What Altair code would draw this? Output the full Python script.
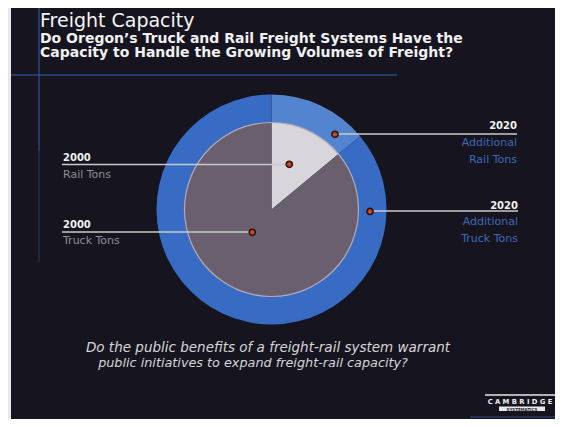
import altair as alt
import pandas as pd

# ---------------- data ----------------
inner_labels = ["2000 Rail Tons", "2000 Truck Tons"]
inner_values = [14, 86]
inner_colors = ["#d8d6db", "#695f6e"]

outer_labels = ["2020 Additional Rail Tons", "2020 Additional Truck Tons"]
outer_values = [14, 86]
outer_colors = ["#5384d0", "#386cc4"]

title_text = "Freight Capacity"
subtitle_lines = ["Do Oregon’s Truck and Rail Freight Systems Have the",
                  "Capacity to Handle the Growing Volumes of Freight?"]
question_lines = ["Do the public benefits of a freight-rail system warrant",
                  "public initiatives to expand freight-rail capacity?"]

left_years = ["2000", "2000"]
left_names = ["Rail Tons", "Truck Tons"]
right_years = ["2020", "2020"]
right_names = [["Additional", "Rail Tons"], ["Additional", "Truck Tons"]]

# ---------------- layout (screen coordinates of the slide) ----------------
W, H = 547, 411
FONT = "DejaVu Sans"
xs = alt.Scale(domain=[8, 8 + W], nice=False, zero=False)
ys = alt.Scale(domain=[8, 8 + H], nice=False, zero=False, reverse=True)
CX, CY = 271.5, 209.5

def X(f):
    return alt.X(f, type="quantitative", scale=xs, axis=None)

def Y(f):
    return alt.Y(f, type="quantitative", scale=ys, axis=None)

def X2(f):
    return alt.X2(f)

def Y2(f):
    return alt.Y2(f)

layers = []

# slide background
bg = pd.DataFrame({"x": [11], "x2": [8 + W], "y": [8], "y2": [8 + H]})
layers.append(alt.Chart(bg).mark_rect(color="#16151f").encode(
    x=X("x"), x2=X2("x2"), y=Y("y"), y2=Y2("y2")))

# decorative blue lines
deco = pd.DataFrame({
    "x": [11, 39, 39, 470],
    "x2": [397, 39, 39, 8 + W],
    "y": [75, 8, 150, 417],
    "y2": [75, 150, 262, 417],
    "op": [0.85, 0.8, 0.45, 0.6],
})
layers.append(alt.Chart(deco).mark_rule(color="#2f4f9a", strokeWidth=1.5).encode(
    x=X("x"), x2=X2("x2"), y=Y("y"), y2=Y2("y2"),
    opacity=alt.Opacity("op:Q", scale=None)))

# outer ring (2020 additional)
outer_df = pd.DataFrame({"label": outer_labels, "v": outer_values,
                         "c": outer_colors, "o": [0, 1],
                         "cx": [CX] * 2, "cy": [CY] * 2})
layers.append(alt.Chart(outer_df).mark_arc(outerRadius=115, innerRadius=87).encode(
    x=X("cx"), y=Y("cy"),
    theta=alt.Theta("v:Q", stack=True),
    order=alt.Order("o:Q"),
    color=alt.Color("c:N", scale=None)))

# inner pie (2000)
inner_df = pd.DataFrame({"label": inner_labels, "v": inner_values,
                         "c": inner_colors, "o": [0, 1],
                         "cx": [CX] * 2, "cy": [CY] * 2})
layers.append(alt.Chart(inner_df).mark_arc(outerRadius=87).encode(
    x=X("cx"), y=Y("cy"),
    theta=alt.Theta("v:Q", stack=True),
    order=alt.Order("o:Q"),
    color=alt.Color("c:N", scale=None)))

# thin light edge around the inner pie
edge_df = pd.DataFrame({"v": [sum(inner_values)], "cx": [CX], "cy": [CY]})
layers.append(alt.Chart(edge_df).mark_arc(outerRadius=87.6, innerRadius=86.4,
                                          color="#b7aab6").encode(
    x=X("cx"), y=Y("cy"), theta=alt.Theta("v:Q", stack=True)))

# leader lines
lead = pd.DataFrame({
    "x": [62, 62, 335, 370],
    "x2": [289, 252, 517, 518],
    "y": [164.5, 232, 134, 211],
})
layers.append(alt.Chart(lead).mark_rule(color="#c8c8cd", strokeWidth=1.5).encode(
    x=X("x"), x2=X2("x2"), y=Y("y"), y2=Y2("y")))

# dots
dots = pd.DataFrame({"x": [289.3, 252.3, 335, 370], "y": [164.3, 232.3, 134.3, 211.5]})
layers.append(alt.Chart(dots).mark_point(filled=True, size=38, color="#c8481f",
                                         stroke="#2a1410", strokeWidth=1.6,
                                         opacity=1).encode(
    x=X("x"), y=Y("y")))

# left labels
ly = pd.DataFrame({"x": [63, 63], "y": [161, 228], "t": left_years})
layers.append(alt.Chart(ly).mark_text(align="left", baseline="alphabetic", font=FONT,
                                      fontSize=10, fontWeight="bold", color="#f2f2f2").encode(
    x=X("x"), y=Y("y"), text="t:N"))
ln = pd.DataFrame({"x": [63, 63], "y": [177.5, 244], "t": left_names})
layers.append(alt.Chart(ln).mark_text(align="left", baseline="alphabetic", font=FONT,
                                      fontSize=11, color="#8e8d94").encode(
    x=X("x"), y=Y("y"), text="t:N"))

# right labels
ry = pd.DataFrame({"x": [517, 518], "y": [129, 208.5], "t": right_years})
layers.append(alt.Chart(ry).mark_text(align="right", baseline="alphabetic", font=FONT,
                                      fontSize=10, fontWeight="bold", color="#f2f2f2").encode(
    x=X("x"), y=Y("y"), text="t:N"))
rn = pd.DataFrame({"x": [517, 517, 518, 518],
                   "y": [146, 162.5, 225, 241.5],
                   "t": right_names[0] + right_names[1]})
layers.append(alt.Chart(rn).mark_text(align="right", baseline="alphabetic", font=FONT,
                                      fontSize=11, color="#3d69b8").encode(
    x=X("x"), y=Y("y"), text="t:N"))

# title & subtitle
tdf = pd.DataFrame({"x": [40], "y": [26.5], "t": [title_text]})
layers.append(alt.Chart(tdf).mark_text(align="left", baseline="alphabetic", font=FONT,
                                       fontSize=19, color="#f4f4f4").encode(
    x=X("x"), y=Y("y"), text="t:N"))
sdf = pd.DataFrame({"x": [40, 40], "y": [42.5, 57], "t": subtitle_lines})
layers.append(alt.Chart(sdf).mark_text(align="left", baseline="alphabetic", font=FONT,
                                       fontSize=14, fontWeight="bold", color="#f0f0f0").encode(
    x=X("x"), y=Y("y"), text="t:N"))

# bottom question
q1 = pd.DataFrame({"x": [268], "y": [352], "t": question_lines[:1]})
layers.append(alt.Chart(q1).mark_text(align="center", baseline="alphabetic", font=FONT,
                                      fontSize=13.5, fontStyle="italic", color="#d6d6da").encode(
    x=X("x"), y=Y("y"), text="t:N"))
q2 = pd.DataFrame({"x": [253], "y": [367], "t": question_lines[1:]})
layers.append(alt.Chart(q2).mark_text(align="center", baseline="alphabetic", font=FONT,
                                      fontSize=12.8, fontStyle="italic", color="#d6d6da").encode(
    x=X("x"), y=Y("y"), text="t:N"))

# logo
logo_line = pd.DataFrame({"x": [485], "x2": [555], "y": [395]})
layers.append(alt.Chart(logo_line).mark_rule(color="#e8e8e8", strokeWidth=1.5).encode(
    x=X("x"), x2=X2("x2"), y=Y("y"), y2=Y2("y")))
logo_bar = pd.DataFrame({"x": [499], "x2": [545], "y": [406.5], "y2": [411]})
layers.append(alt.Chart(logo_bar).mark_rect(color="#e8e8e8").encode(
    x=X("x"), x2=X2("x2"), y=Y("y"), y2=Y2("y2")))
logo_t = pd.DataFrame({"x": [520], "y": [404], "t": ["C A M B R I D G E"]})
layers.append(alt.Chart(logo_t).mark_text(align="center", baseline="alphabetic", font=FONT,
                                          fontSize=6.8, fontWeight="bold", color="#f0f0f0").encode(
    x=X("x"), y=Y("y"), text="t:N"))
logo_s = pd.DataFrame({"x": [522], "y": [410.5], "t": ["SYSTEMATICS"]})
layers.append(alt.Chart(logo_s).mark_text(align="center", baseline="alphabetic", font=FONT,
                                          fontSize=4, fontWeight="bold", color="#1a1a2a").encode(
    x=X("x"), y=Y("y"), text="t:N"))

chart = alt.layer(*layers).properties(
    width=W, height=H, padding=0,
    autosize=alt.AutoSizeParams(type="none"),
    background="#e8e8e6",
).configure_view(strokeWidth=0)

chart.save("out.html", embed_options={"renderer": "svg", "actions": False})
